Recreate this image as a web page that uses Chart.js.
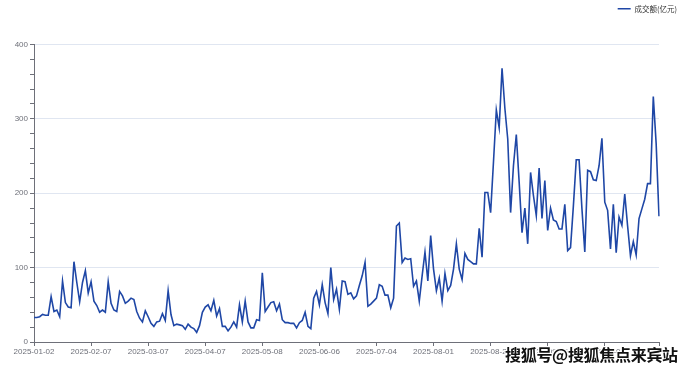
<!DOCTYPE html>
<html>
<head>
<meta charset="utf-8">
<script src="https://cdn.jsdelivr.net/npm/chart.js@4/dist/chart.umd.min.js"></script>
<style>
    html, body { margin: 0; padding: 0; background: #fff; }
    #wrap { position: relative; width: 691px; height: 370px; }
    #watermark {
        position: absolute;
        left: 505px;
        top: 342px;
        font-family: "Noto Sans CJK SC", sans-serif;
        font-size: 16px;
        font-weight: bold;
        color: #111;
        letter-spacing: -0.3px;
        text-shadow: 1px 1px 0 #fff, -1px -1px 0 #fff, 1px -1px 0 #fff, -1px 1px 0 #fff;
        white-space: nowrap;
    }
</style>
</head>
<body>
<div id="wrap">
    <canvas id="turnover-chart" width="691" height="370"></canvas>
    <div id="watermark">搜狐号@搜狐焦点来宾站</div>
</div>
<script>
// daily turnover, one value per trading day (2025-01-02 onwards)
const turnover = [
    33, 33, 34, 37, 36, 36, 61, 41, 43, 34,
    82, 53, 47, 46, 108, 80, 54, 80, 96, 66,
    81, 55, 49, 40, 43, 40, 81, 52, 43, 41,
    68, 62, 52, 55, 59, 57, 41, 32, 27, 42,
    34, 25, 21, 27, 28, 38, 29, 69, 37, 22,
    24, 23, 22, 17, 24, 20, 18, 13, 22, 40,
    47, 50, 42, 56, 35, 45, 21, 21, 15, 20,
    27, 20, 50, 27, 55, 27, 19, 19, 30, 29,
    93, 41, 47, 53, 54, 42, 51, 30, 26, 26,
    25, 25, 19, 26, 29, 40, 21, 18, 59, 68,
    50, 77, 53, 38, 100, 57, 71, 44, 82, 81,
    64, 66, 58, 62, 76, 89, 107, 48, 51, 55,
    59, 77, 75, 63, 63, 46, 59, 156, 160, 107,
    113, 111, 112, 75, 82, 55, 89, 121, 82, 143,
    98, 69, 86, 55, 92, 69, 76, 98, 132, 98,
    84, 119, 111, 108, 105, 105, 153, 114, 201, 201,
    174, 242, 312, 288, 368, 314, 273, 174, 237, 279,
    215, 147, 180, 132, 228, 197, 170, 234, 166, 217,
    150, 180, 164, 162, 152, 152, 185, 123, 127, 183,
    245, 245, 179, 121, 231, 229, 218, 217, 237, 274,
    188, 177, 125, 185, 120, 168, 157, 199, 156, 116,
    135, 117, 166, 179, 192, 213, 213, 330, 267, 169
];

// x labels, shown every 20 trading days
const tickLabels = [
    '2025-01-02', '2025-02-07', '2025-03-07', '2025-04-07', '2025-05-08', '2025-06-06',
    '2025-07-04', '2025-08-01', '2025-08-29', '2025-09-26', '2025-11-03'
];
const labelEvery = 20;

const seriesName = '成交额(亿元)';

(function() {
    'use strict';

    const axisGray = '#6e7079';
    const lineBlue = '#1f47a6';
    const font = { family: '"Liberation Sans", Arial, sans-serif', size: 8 };

    const categories = turnover.map((v, i) => i);

    /**
     * Legend sits in the top right corner, outside the plot padding
     */
    const legendNudge = {
        id: 'legendNudge',
        afterLayout: function(chart) {
            const legend = chart.legend;
            const dx = 22, dy = -22;
            legend.left += dx;
            legend.right += dx;
            legend.top += dy;
            legend.bottom += dy;
            legend.legendHitBoxes.forEach(function(box) {
                box.left += dx;
                box.top += dy;
            });
        }
    };

    new Chart(document.getElementById('turnover-chart'), {
        type: 'line',
        data: {
            labels: categories,
            datasets: [{
                label: seriesName,
                data: turnover,
                borderColor: lineBlue,
                backgroundColor: lineBlue,
                borderWidth: 1.6,
                pointRadius: 0,
                tension: 0
            }]
        },
        options: {
            responsive: false,
            animation: false,
            layout: {
                padding: { left: 0, right: 32, top: 23, bottom: 0 }
            },
            plugins: {
                legend: {
                    position: 'top',
                    align: 'end',
                    labels: {
                        usePointStyle: true,
                        pointStyle: 'line',
                        pointStyleWidth: 13,
                        boxHeight: 2,
                        color: '#333',
                        padding: 4,
                        font: { family: '"Noto Sans CJK SC", sans-serif', size: 7.5 }
                    }
                },
                tooltip: { enabled: false }
            },
            scales: {
                x: {
                    offset: false,
                    border: { display: true, color: axisGray },
                    grid: {
                        drawOnChartArea: false,
                        tickLength: 4,
                        tickColor: function(ctx) {
                            const last = ctx.index === turnover.length - 1;
                            return (ctx.index % labelEvery === 0 || last) ? axisGray : 'rgba(0,0,0,0)';
                        }
                    },
                    ticks: {
                        autoSkip: false,
                        maxRotation: 0,
                        color: axisGray,
                        font: font,
                        padding: 1,
                        callback: function(value, index) {
                            return index % labelEvery === 0 ? (tickLabels[index / labelEvery] || '') : '';
                        }
                    },
                    afterFit: function(scale) {
                        scale.height = 28;
                    }
                },
                y: {
                    min: 0,
                    max: 400,
                    border: { display: true, color: axisGray },
                    grid: {
                        tickLength: 4,
                        tickColor: axisGray,
                        color: function(ctx) {
                            return ctx.tick.value % 100 === 0 ? '#e0e6f1' : 'rgba(0,0,0,0)';
                        }
                    },
                    ticks: {
                        stepSize: 20,
                        autoSkip: false,
                        color: axisGray,
                        font: font,
                        padding: 2,
                        callback: function(value) {
                            return value % 100 === 0 ? value : '';
                        }
                    },
                    afterFit: function(scale) {
                        scale.width = 34;
                    }
                }
            }
        },
        plugins: [legendNudge]
    });
})();
</script>
</body>
</html>
